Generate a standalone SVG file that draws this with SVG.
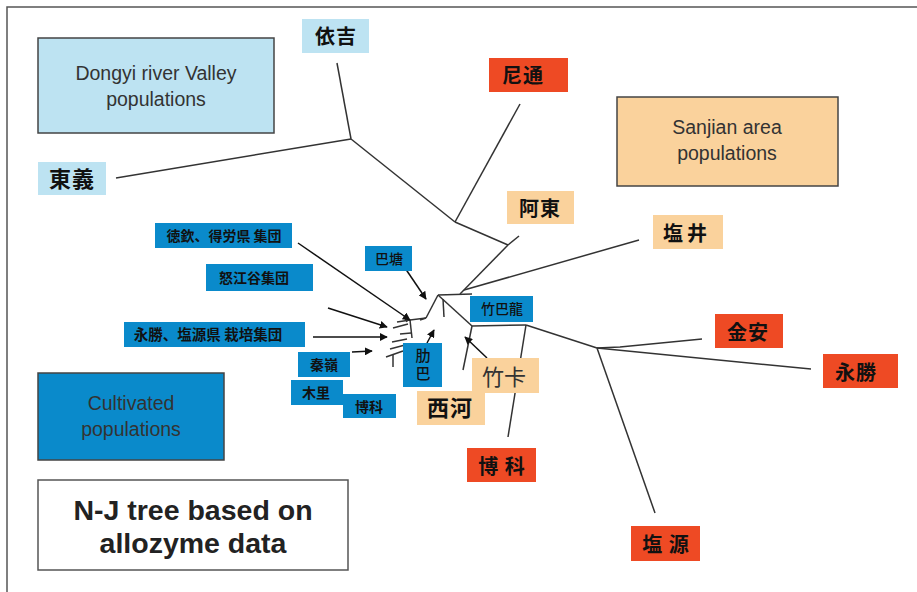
<svg xmlns="http://www.w3.org/2000/svg" width="917" height="592" viewBox="0 0 917 592">
<defs>
<marker id="ah" viewBox="0 0 10 10" refX="9" refY="5" markerWidth="8" markerHeight="8" markerUnits="userSpaceOnUse" orient="auto">
<path d="M0,0 L10,5 L0,10 z" fill="#111"/>
</marker>
<style>
.frame{stroke:#555;stroke-width:1.5;fill:none}
.legend{stroke:#444;stroke-width:1.5}
.lt{font-family:"Liberation Sans","Noto Sans CJK JP",sans-serif;font-size:19.5px;fill:#333;text-anchor:middle}
.title{font-family:"Liberation Sans","Noto Sans CJK JP",sans-serif;font-size:28.5px;font-weight:bold;fill:#222;text-anchor:middle}
.big{font-family:"Noto Sans CJK JP","Liberation Sans",sans-serif;font-size:20px;font-weight:bold;fill:#111;text-anchor:middle;letter-spacing:1px}
.sm{font-family:"Noto Sans CJK JP","Liberation Sans",sans-serif;font-size:14px;font-weight:bold;fill:#111;text-anchor:middle}
.lb{fill:#BDE3F2}
.pe{fill:#FAD29C}
.rd{fill:#EE4A24}
.bl{fill:#0A8ACB}
.tree line,.tree polyline{stroke:#333;stroke-width:1.5;fill:none}
.arr line{stroke:#111;stroke-width:1.5;marker-end:url(#ah)}
</style>
</defs>
<rect width="917" height="592" fill="#fff"/>
<path class="frame" d="M7,592 V7 H917"/>

<g id="legend-dongyi"><rect class="legend lb" x="38" y="38" width="236" height="95"/><text class="lt" x="156" y="80">Dongyi river Valley</text><text class="lt" x="156" y="106">populations</text></g>
<g id="legend-sanjian"><rect class="legend pe" x="617" y="97" width="221" height="89"/><text class="lt" x="727" y="134">Sanjian area</text><text class="lt" x="727" y="160">populations</text></g>
<g id="legend-cultivated"><rect class="legend bl" x="38" y="373" width="186" height="87"/><text class="lt" x="131" y="410">Cultivated</text><text class="lt" x="131" y="436">populations</text></g>
<g id="title"><rect x="38" y="480" width="310" height="90" fill="#fff" stroke="#555" stroke-width="1.5"/><text class="title" x="193" y="520">N-J tree based on</text><text class="title" x="193" y="553">allozyme data</text></g>

<g id="edges">
<g class="tree">
<line x1="116" y1="178" x2="351" y2="139"/>
<line x1="337" y1="63" x2="351" y2="139"/>
<line x1="351" y1="139" x2="455" y2="222"/>
<line x1="520" y1="104" x2="455" y2="222"/>
<line x1="455" y1="222" x2="508" y2="245"/>
<line x1="508" y1="245" x2="519" y2="236"/>
<line x1="508" y1="245" x2="460" y2="294"/>
<line x1="464" y1="290" x2="639" y2="240"/>
<line x1="438" y1="295" x2="472" y2="294"/>
<line x1="438" y1="295" x2="472" y2="326"/>
<line x1="472" y1="326" x2="526" y2="325"/>
<line x1="526" y1="325" x2="597" y2="348"/>
<line x1="526" y1="325" x2="508" y2="437"/>
<polyline points="597,348 620,347 702,339"/>
<line x1="597" y1="348" x2="811" y2="369"/>
<line x1="597" y1="348" x2="655" y2="513"/>
<line x1="472" y1="326" x2="463" y2="370"/>
<line x1="443" y1="299" x2="444" y2="317"/>
<line x1="438" y1="295" x2="426" y2="318"/>
<line x1="426" y1="318" x2="410" y2="320"/>
<line x1="410" y1="320" x2="412" y2="338"/>
<line x1="410" y1="320" x2="397" y2="322"/>
<line x1="404" y1="316" x2="407" y2="322"/>
<line x1="408" y1="324" x2="393" y2="328"/>
<line x1="411" y1="333" x2="400" y2="334"/>
<line x1="407" y1="339" x2="392" y2="342"/>
<line x1="405" y1="345" x2="390" y2="349"/>
<line x1="403" y1="351" x2="386" y2="357"/>
<line x1="393" y1="355" x2="393" y2="367"/>
<line x1="426" y1="318" x2="420" y2="320"/>
</g>
<g class="arr">
<line x1="298" y1="243" x2="410" y2="320"/>
<line x1="403" y1="265" x2="426" y2="299"/>
<line x1="328" y1="308" x2="387" y2="327"/>
<line x1="313" y1="337" x2="387" y2="337"/>
<line x1="352" y1="352" x2="372" y2="351"/>
<line x1="427" y1="343" x2="434" y2="330"/>
<line x1="487" y1="358" x2="465" y2="337"/>
</g>
</g>

<g id="n-yiji"><rect class="lb" x="302" y="19" width="67" height="34"/><text class="big" x="336" y="44">依吉</text></g>
<g id="n-dongyi"><rect class="lb" x="38" y="162" width="68" height="33"/><text class="big" x="72" y="187" style="font-size:22px">東義</text></g>
<g id="n-nitong"><rect class="rd" x="489" y="58" width="79" height="34"/><text class="big" x="523" y="83">尼通</text></g>
<g id="n-adong"><rect class="pe" x="507" y="191" width="67" height="33"/><text class="big" x="540" y="216">阿東</text></g>
<g id="n-yanjing"><rect class="pe" x="653" y="215" width="70" height="34"/><text class="big" x="687" y="241" style="letter-spacing:4px">塩井</text></g>
<g id="n-jinan"><rect class="rd" x="715" y="314" width="68" height="34"/><text class="big" x="748" y="340">金安</text></g>
<g id="n-yongsheng"><rect class="rd" x="823" y="354" width="75" height="34"/><text class="big" x="856" y="380">永勝</text></g>
<g id="n-yanyuan"><rect class="rd" x="631" y="526" width="69" height="35"/><text class="big" x="666" y="552">塩 源</text></g>
<g id="n-boke"><rect class="rd" x="467" y="448" width="69" height="34"/><text class="big" x="502" y="474">博 科</text></g>
<g id="n-zhuka"><rect class="pe" x="472" y="358" width="67" height="35"/><text x="504" y="385" style="font-family:'Noto Sans CJK JP',sans-serif;font-size:22px;fill:#333;text-anchor:middle">竹卡</text></g>
<g id="n-xihe"><rect class="pe" x="417" y="391" width="68" height="34"/><text class="big" x="450" y="416" style="font-size:22px">西河</text></g>
<g id="n-zhubalong"><rect class="bl" x="470" y="296" width="63" height="26"/><text class="sm" x="502" y="314" style="font-weight:500">竹巴龍</text></g>
<g id="n-batang"><rect class="bl" x="365" y="246" width="47" height="25"/><text class="sm" x="389" y="264" style="font-weight:500">巴塘</text></g>
<g id="n-leiba"><rect class="bl" x="403" y="343" width="39" height="44"/><text class="sm" x="423" y="366" writing-mode="tb" style="font-weight:500;font-size:15px;letter-spacing:3px">肋巴</text></g>
<g id="n-qinling"><rect class="bl" x="298" y="352" width="52" height="25"/><text class="sm" x="324" y="370">秦嶺</text></g>
<g id="n-muli"><rect class="bl" x="291" y="380" width="52" height="25"/><text class="sm" x="316" y="398">木里</text></g>
<g id="n-boke-s"><rect class="bl" x="343" y="394" width="53" height="24"/><text class="sm" x="369" y="412">博科</text></g>
<g id="n-deqin"><rect class="bl" x="155" y="223" width="137" height="25"/><text class="sm" x="224" y="241">徳欽、得労県 集団</text></g>
<g id="n-nujiang"><rect class="bl" x="206" y="264" width="107" height="27"/><text class="sm" x="254" y="283">怒江谷集団</text></g>
<g id="n-cult"><rect class="bl" x="124" y="322" width="181" height="25"/><text class="sm" x="208" y="340" style="font-size:14.5px">永勝、塩源県 栽培集団</text></g>
</svg>
